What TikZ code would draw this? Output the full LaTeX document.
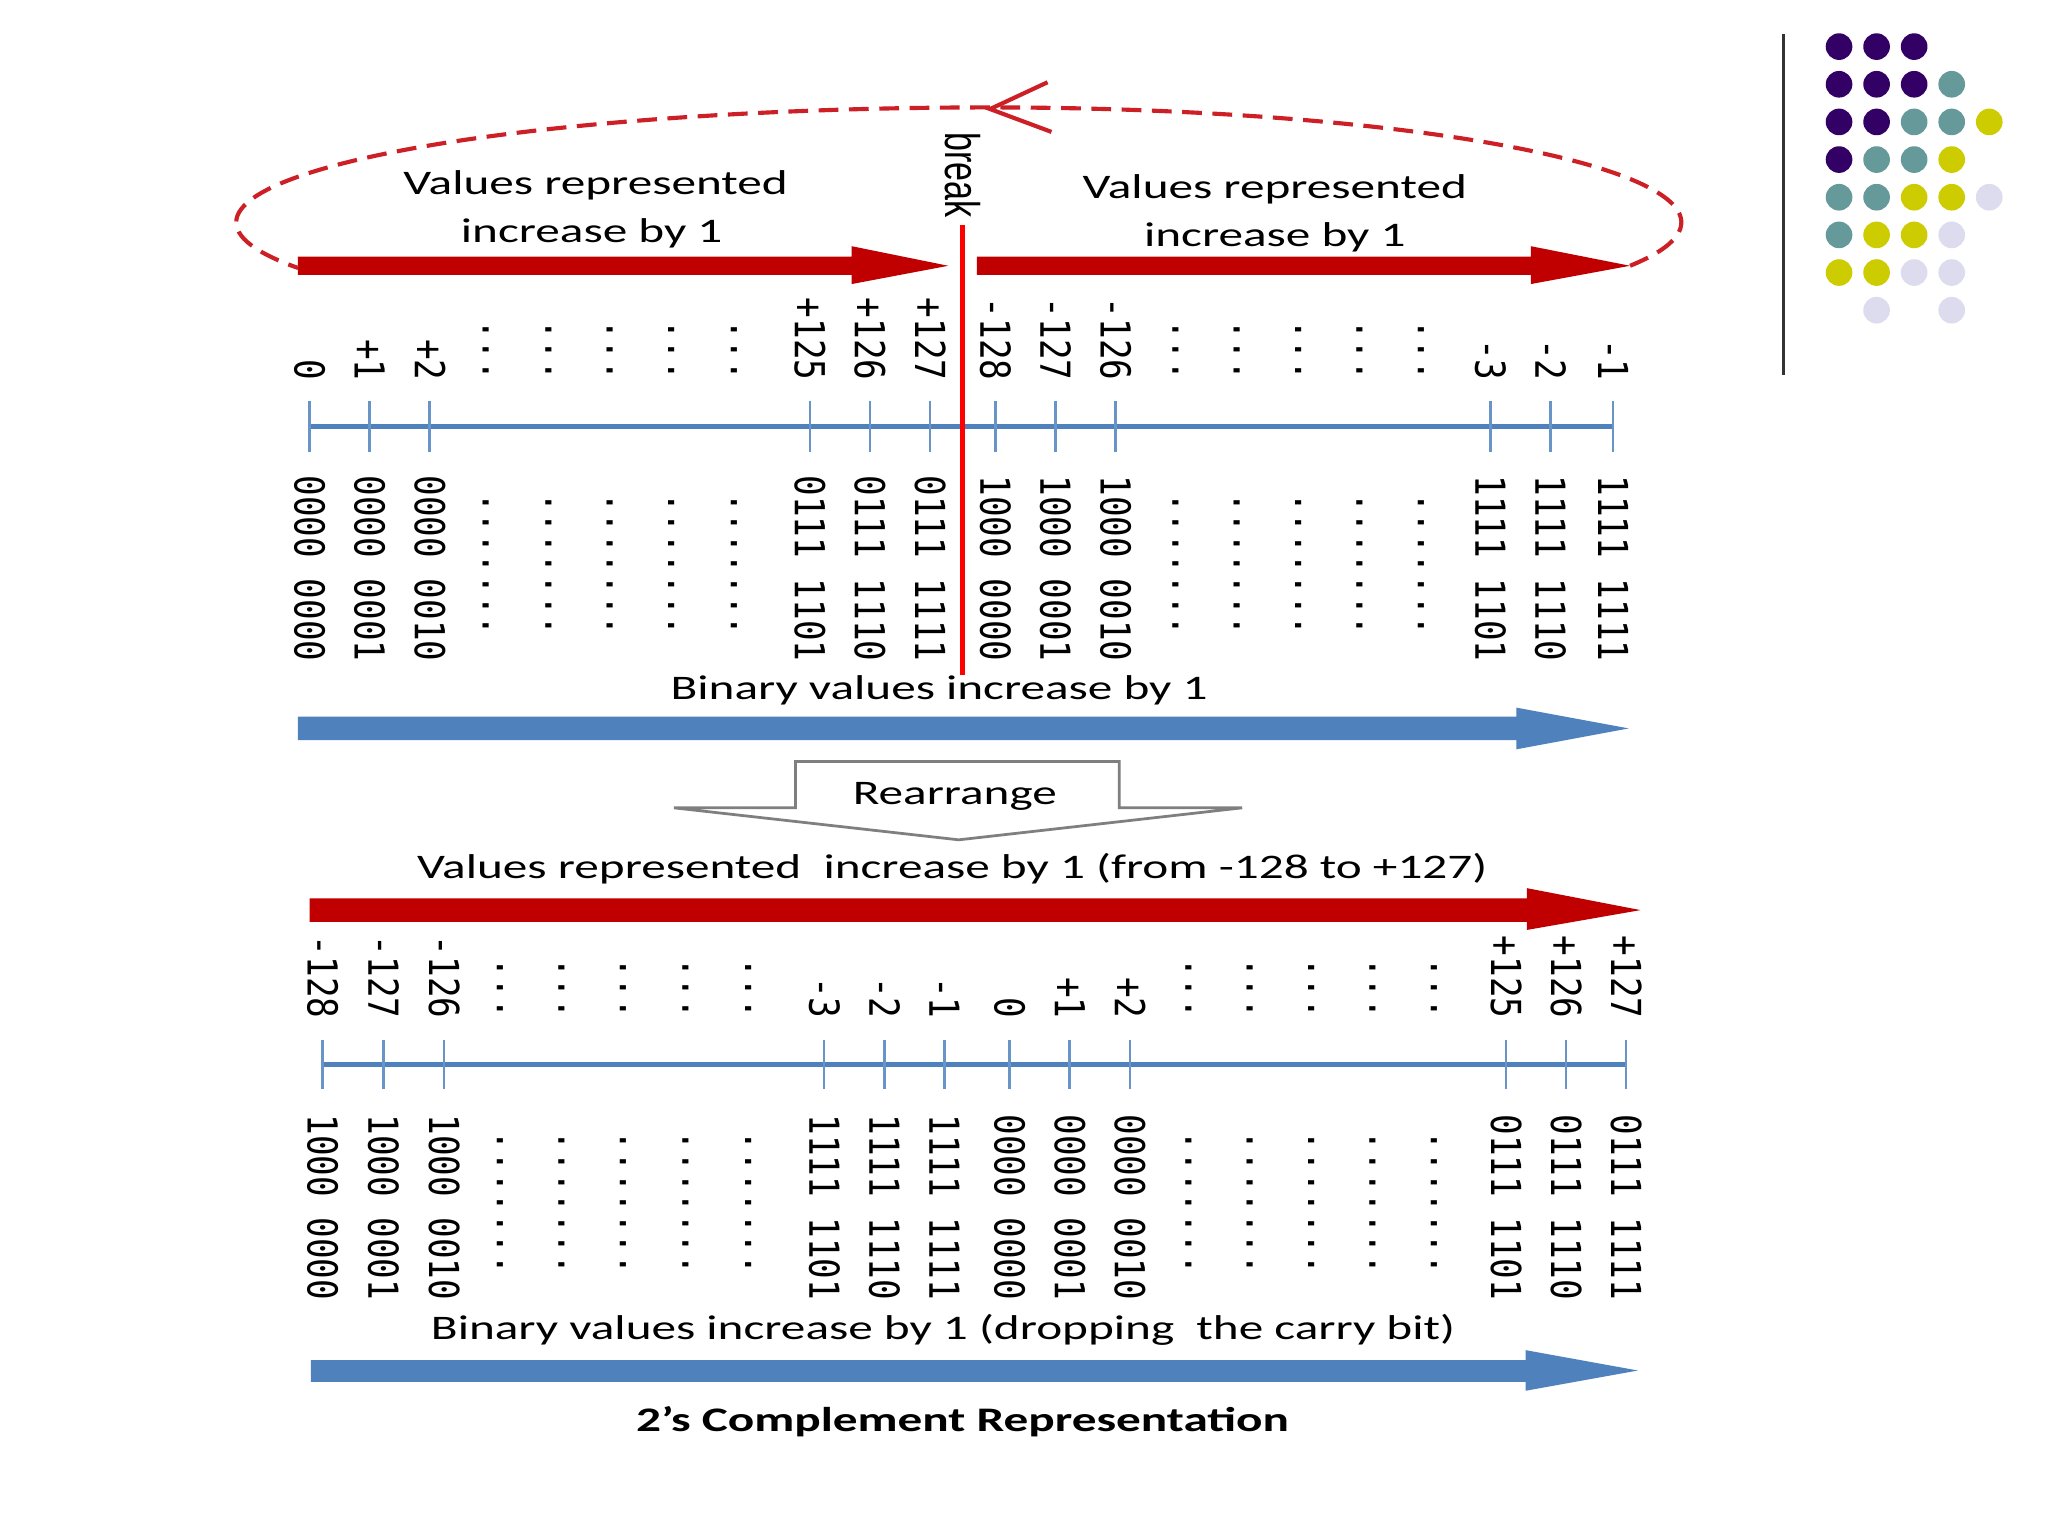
\documentclass[tikz,border=0pt]{standalone}
\usepackage{fontspec}
\usepackage{tikz}
\setmainfont{Carlito}
\newfontfamily\wordfont[FakeStretch=1.43]{Carlito}
\newfontfamily\bitfont[FakeStretch=0.83]{DejaVu Sans Mono}
\newfontfamily\brkfont[FakeStretch=0.7]{Liberation Sans}
\definecolor{BarRed}{HTML}{C00000}
\definecolor{CutRed}{HTML}{FF0000}
\definecolor{LoopRed}{HTML}{CC1F26}
\definecolor{AxisBlue}{HTML}{4F81BD}
\definecolor{RuleGray}{HTML}{7F7F7F}
\definecolor{DotPurple}{HTML}{330066}
\definecolor{DotTeal}{HTML}{669999}
\definecolor{DotOlive}{HTML}{CCCC00}
\definecolor{DotLilac}{HTML}{DCDCEE}
\tikzset{
  numlbl/.style={rotate=-90,anchor=east,inner sep=0pt,
    text height=6.5pt,text depth=0pt,font=\bitfont\fontsize{9}{10}\selectfont},
  binlbl/.style={rotate=-90,anchor=west,inner sep=0pt,
    text height=6.5pt,text depth=0pt,font=\bitfont\fontsize{9}{10}\selectfont},
  dotcol/.style={rotate=-90,inner sep=0pt,font=\bitfont\fontsize{9}{10}\selectfont},
  caption/.style={anchor=base,inner sep=0pt,font=\wordfont\fontsize{7.5}{10.4}\selectfont},
  tickmk/.style={draw=AxisBlue!85,line width=0.55pt},
  axisln/.style={draw=AxisBlue,line width=0.9pt},
  cutline/.style={draw=CutRed,line width=1.1pt},
  loopdash/.style={draw=LoopRed,line width=0.9pt,dash pattern=on 4.3pt off 2.3pt},
  looparm/.style={draw=LoopRed,line width=0.9pt},
  shiftbox/.style={draw=RuleGray,fill=white,line width=0.6pt,line join=miter},
}
\begin{document}
\begin{tikzpicture}
  \path[use as bounding box,fill=white] (0,0) rectangle (15.68,-11.76);

  % upper line: values in stored order
  \foreach \x/\v/\b [count=\i] in {2.37/0/0000 0000, 2.83/+1/0000 0001, 3.29/+2/0000 0010,
      6.20/+125/0111 1101, 6.66/+126/0111 1110, 7.12/+127/0111 1111,
      7.62/-128/1000 0000, 8.08/-127/1000 0001, 8.54/-126/1000 0010,
      11.41/-3/1111 1101, 11.87/-2/1111 1110, 12.35/-1/1111 1111} {
    \coordinate (ta\i) at (\x,-3.265);
    \node[numlbl] (nta\i) at (\x,-2.92) {\v};
    \node[binlbl] (bta\i) at (\x,-3.635) {\b};
  }
  \draw[axisln] (ta1) -- (ta12);
  \foreach \i in {1,...,12}
    \draw[tickmk] ([yshift=0.195cm]ta\i) -- ([yshift=-0.195cm]ta\i);
  \foreach \x [count=\i] in {3.72,4.20,4.67,5.14,5.62,9.00,9.47,9.94,10.41,10.88} {
    \node[dotcol,anchor=base east] (dta\i) at (\x-0.025,-2.924) {...};
    \node[dotcol,anchor=base west] (dba\i) at (\x-0.025,-3.76) {.......};
  }

  \fill[BarRed] (2.28,-1.965) -- (6.52,-1.965) -- (6.52,-1.885) -- (7.26,-2.035)
    -- (6.52,-2.175) -- (6.52,-2.105) -- (2.28,-2.105) -- cycle;
  \fill[BarRed] (7.48,-1.965) -- (11.72,-1.965) -- (11.72,-1.885) -- (12.48,-2.035)
    -- (11.72,-2.175) -- (11.72,-2.105) -- (7.48,-2.105) -- cycle;
  \node[caption] (lvals) at (4.56,-1.493) {Values represented};
  \node[caption] (linc) at (4.53,-1.858) {increase by 1};
  \node[caption] (rvals) at (9.76,-1.523) {Values represented};
  \node[caption] (rinc) at (9.76,-1.888) {increase by 1};

  % wrap-around from -1 back to 0
  \coordinate (rtip) at (12.48,-2.035);
  \draw[loopdash] (rtip) arc[start angle=-22.2,end angle=90,x radius=5.3,y radius=0.88]
    arc[start angle=90,end angle=203.4,x radius=5.765,y radius=0.88];
  \coordinate (looptip) at (7.58,-0.835);
  \draw[looparm] ([shift={(0.44,0.205)}]looptip) -- (looptip) -- ([shift={(0.47,-0.175)}]looptip);

  \coordinate (cuttop) at (7.37,-1.72);
  \coordinate (cutbot) at (7.37,-5.17);
  \draw[cutline] (cuttop) -- (cutbot);
  \node[rotate=-90,anchor=west,inner sep=0pt,font=\brkfont\fontsize{10.6}{12}\selectfont]
    (brk) at (7.37,-1.008) {break};

  \node[caption] (binup) at (7.19,-5.355) {Binary values increase by 1};
  \fill[AxisBlue] (2.28,-5.487) -- (11.61,-5.487) -- (11.61,-5.418) -- (12.47,-5.577)
    -- (11.61,-5.737) -- (11.61,-5.666) -- (2.28,-5.666) -- cycle;

  % rearrange block arrow
  \draw[shiftbox] (6.09,-6.185) -- (6.09,-5.83) -- (8.57,-5.83) -- (8.57,-6.185)
    -- (9.51,-6.185) -- (7.34,-6.43) -- (5.16,-6.185) -- cycle;
  \node[caption] (rearr) at (7.31,-6.16) {Rearrange};

  % lower line: values in numeric order
  \node[caption] (valsdn) at (7.29,-6.725) {Values represented~ increase by 1 (from -128 to +127)};
  \fill[BarRed] (2.37,-6.878) -- (11.69,-6.878) -- (11.69,-6.80) -- (12.56,-6.968)
    -- (11.69,-7.12) -- (11.69,-7.058) -- (2.37,-7.058) -- cycle;
  \foreach \x/\v/\b [count=\i] in {2.47/-128/1000 0000, 2.935/-127/1000 0001, 3.40/-126/1000 0010,
      6.31/-3/1111 1101, 6.77/-2/1111 1110, 7.23/-1/1111 1111,
      7.73/0/0000 0000, 8.19/+1/0000 0001, 8.65/+2/0000 0010,
      11.53/+125/0111 1101, 11.99/+126/0111 1110, 12.45/+127/0111 1111} {
    \coordinate (tb\i) at (\x,-8.15);
    \node[numlbl] (ntb\i) at (\x,-7.805) {\v};
    \node[binlbl] (btb\i) at (\x,-8.525) {\b};
  }
  \draw[axisln] (tb1) -- (tb12);
  \foreach \i in {1,...,12}
    \draw[tickmk] ([yshift=0.19cm]tb\i) -- ([yshift=-0.19cm]tb\i);
  \foreach \x [count=\i] in {3.83,4.30,4.77,5.25,5.73,9.10,9.57,10.04,10.51,10.98} {
    \node[dotcol,anchor=base east] (dtb\i) at (\x-0.025,-7.81) {...};
    \node[dotcol,anchor=base west] (dbb\i) at (\x-0.025,-8.65) {.......};
  }

  \node[caption] (bindn) at (7.22,-10.255) {Binary values increase by 1 (dropping~ the carry bit)};
  \fill[AxisBlue] (2.38,-10.414) -- (11.68,-10.414) -- (11.68,-10.337) -- (12.54,-10.493)
    -- (11.68,-10.648) -- (11.68,-10.58) -- (2.38,-10.58) -- cycle;
  \node[caption,font=\wordfont\fontsize{7.5}{9}\selectfont\bfseries] (title) at (7.37,-10.96)
    {2’s Complement Representation};

  % slide ornament
  \draw[draw=black!80,line width=0.6pt] (13.655,-0.26) -- (13.655,-2.87);
  \foreach \k [count=\i from 0] in {
      DotPurple,DotPurple,DotPurple,none,none,
      DotPurple,DotPurple,DotPurple,DotTeal,none,
      DotPurple,DotPurple,DotTeal,DotTeal,DotOlive,
      DotPurple,DotTeal,DotTeal,DotOlive,none,
      DotTeal,DotTeal,DotOlive,DotOlive,DotLilac,
      DotTeal,DotOlive,DotOlive,DotLilac,none,
      DotOlive,DotOlive,DotLilac,DotLilac,none,
      none,DotLilac,none,DotLilac,none} {
    \pgfmathtruncatemacro{\col}{mod(\i,5)}
    \pgfmathtruncatemacro{\row}{div(\i,5)}
    \path[fill=\k] (14.08+0.2875*\col,-0.357-0.2883*\row) circle[radius=0.102];
  }
\end{tikzpicture}
\end{document}
